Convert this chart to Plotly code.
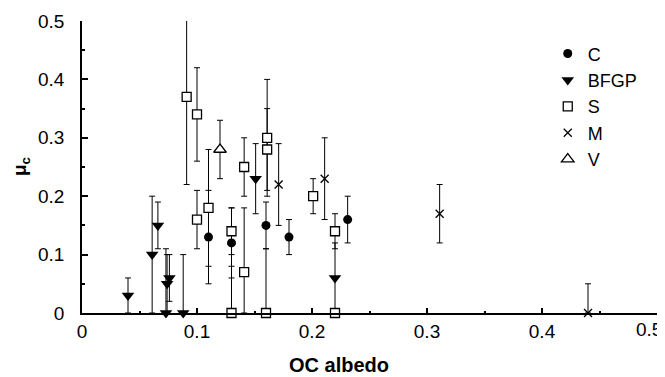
import plotly.graph_objects as go

# ---- data ----
c_x = [0.110, 0.130, 0.160, 0.180, 0.231]
c_y = [0.13, 0.12, 0.15, 0.13, 0.16]
c_err = [0.08, 0.06, 0.04, 0.03, 0.04]

bfgp_x = [0.040, 0.061, 0.066, 0.073, 0.074, 0.076, 0.088, 0.151, 0.220]
bfgp_y = [0.03, 0.10, 0.15, 0.00, 0.05, 0.06, 0.00, 0.23, 0.06]
bfgp_err = [0.03, 0.10, 0.04, 0.11, 0.05, 0.04, 0.10, 0.06, 0.06]

s_x = [0.091, 0.100, 0.100, 0.110, 0.130, 0.130, 0.141, 0.141, 0.161, 0.161, 0.160, 0.201, 0.220, 0.220]
s_y = [0.37, 0.34, 0.16, 0.18, 0.14, 0.00, 0.25, 0.07, 0.30, 0.28, 0.00, 0.20, 0.14, 0.00]
s_err = [0.15, 0.08, 0.05, 0.10, 0.04, 0.08, 0.05, 0.11, 0.10, 0.07, 0.11, 0.03, 0.03, 0.00]

m_x = [0.171, 0.211, 0.311, 0.440]
m_y = [0.22, 0.23, 0.17, 0.00]
m_err = [0.07, 0.07, 0.05, 0.05]

v_x = [0.120]
v_y = [0.28]
v_err = [0.05]

tick_vals = [0, 0.1, 0.2, 0.3, 0.4, 0.5]
y_tick_text = ["0", "0.1", "0.2", "0.3", "0.4", "0.5"]
# the last x label sits flush with the right edge in the reference,
# so it is drawn as a separate right-anchored text
x_tick_text = ["0", "0.1", "0.2", "0.3", "0.4", ""]
x_last_val = 0.5
x_last_label = "0.5"

FONT = "Liberation Sans, Arial, sans-serif"


def err_bar(y, e):
    # lower error clipped at zero (values cannot go below the axis)
    return dict(type="data", symmetric=False, array=e,
                arrayminus=[min(a, b) for a, b in zip(e, y)],
                color="black", thickness=1, width=3)


fig = go.Figure()
series = [
    ("C", c_x, c_y, c_err, dict(symbol="circle", size=9, color="black")),
    ("BFGP", bfgp_x, bfgp_y, bfgp_err, dict(symbol="triangle-down", size=11, color="black")),
    ("S", s_x, s_y, s_err, dict(symbol="square", size=9, color="white",
                                  line=dict(color="black", width=1.3))),
    ("M", m_x, m_y, m_err, dict(symbol="x-thin", size=8, color="black",
                                  line=dict(color="black", width=1.3))),
    ("V", v_x, v_y, v_err, dict(symbol="triangle-up", size=11, color="white",
                                  line=dict(color="black", width=1.3))),
]
for name, xs, ys, es, mk in series:
    fig.add_trace(go.Scatter(x=xs, y=ys, mode="markers", name=name, marker=mk,
                             error_y=err_bar(ys, es), cliponaxis=False,
                             legendgroup=name))

axis_common = dict(range=[0, 0.5], showgrid=False, zeroline=False,
                   showline=True, linecolor="black", linewidth=1.5,
                   ticks="inside", tickcolor="black", tickwidth=1.5,
                   tickvals=tick_vals, automargin=False,
                   tickfont=dict(family=FONT, size=19, color="black"))

fig.update_xaxes(**axis_common, ticktext=x_tick_text, ticklen=5,
                 minor=dict(dtick=0.05, tick0=0, ticks="inside", ticklen=2,
                            tickcolor="black", tickwidth=1.5))
fig.update_yaxes(**axis_common, ticktext=y_tick_text, ticklen=6,
                 ticklabelstandoff=12,
                 minor=dict(dtick=0.05, tick0=0, ticks="inside", ticklen=3,
                            tickcolor="black", tickwidth=1.5))

fig.add_annotation(text=x_last_label, xref="x", yref="paper",
                   x=x_last_val, y=0, xanchor="right", yanchor="top",
                   xshift=7, yshift=-4, showarrow=False,
                   font=dict(family=FONT, size=19, color="black"))
fig.add_annotation(text="<b>OC albedo</b>", xref="paper", yref="paper",
                   x=0.4475, y=-0.135, xanchor="center", yanchor="top",
                   showarrow=False, font=dict(family=FONT, size=20, color="black"))
fig.add_annotation(text="<b>μ<sub>c</sub></b>", xref="paper", yref="paper",
                   x=-0.106, y=0.5, xanchor="center", yanchor="middle",
                   textangle=-90, showarrow=False,
                   font=dict(family=FONT, size=19, color="black"))

# the page body adds an 8px offset; the figure is sized to fit the window
fig.update_layout(
    width=657, height=369,
    margin=dict(l=74, r=8, t=13, b=64, autoexpand=False),
    plot_bgcolor="white", paper_bgcolor="white",
    showlegend=True,
    legend=dict(x=0.81, y=0.951, xanchor="left", yanchor="top",
                font=dict(family=FONT, size=18, color="black"),
                bgcolor="rgba(0,0,0,0)", tracegroupgap=0,
                traceorder="grouped", itemwidth=30),
)

fig.write_html("out.html")
